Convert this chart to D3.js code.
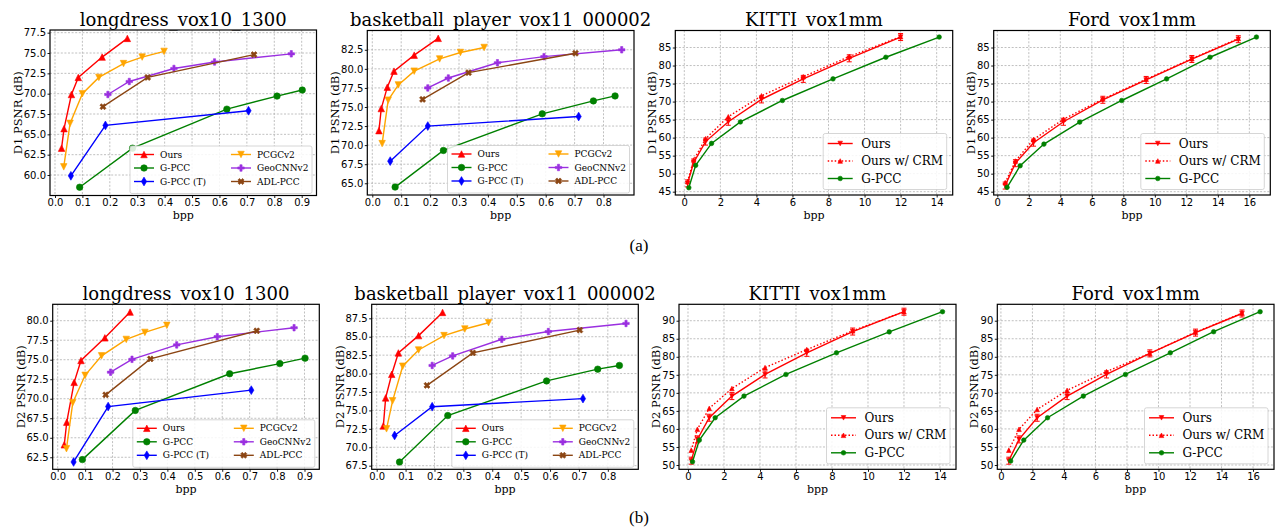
<!DOCTYPE html>
<html><head><meta charset="utf-8">
<script src="https://cdn.jsdelivr.net/npm/d3@7"></script>
<style>body{margin:0;background:#fff}svg{display:block}</style>
</head><body>
<svg id="chart" width="1275" height="527"></svg>
<script>
// ---------------- DATA ----------------
// longdress_vox10_1300 (bpp shared between D1 and D2)
const ldBppOurs  = [0.024, 0.033, 0.060, 0.085, 0.172, 0.264];
const ldBppGPCC  = [0.090, 0.283, 0.627, 0.810, 0.902];
const ldBppGPCCT = [0.058, 0.184, 0.706];
const ldBppPCGC  = [0.032, 0.055, 0.100, 0.160, 0.250, 0.318, 0.398];
const ldBppGeo   = [0.193, 0.271, 0.434, 0.582, 0.862];
const ldBppADL   = [0.175, 0.338, 0.726];
const ldD1Ours  = [63.3, 65.7, 69.9, 72.0, 74.5, 76.8];
const ldD1GPCC  = [58.5, 63.3, 68.1, 69.7, 70.45];
const ldD1GPCCT = [59.9, 66.1, 67.9];
const ldD1PCGC  = [61.0, 66.35, 70.0, 72.0, 73.7, 74.5, 75.2];
const ldD1Geo   = [69.9, 71.5, 73.1, 73.9, 74.9];
const ldD1ADL   = [68.4, 72.0, 74.8];
const ldD2Ours  = [64.1, 67.0, 72.1, 74.9, 77.8, 81.1];
const ldD2GPCC  = [62.2, 68.5, 73.2, 74.5, 75.2];
const ldD2GPCCT = [61.9, 69.0, 71.1];
const ldD2PCGC  = [63.6, 69.5, 73.0, 75.5, 77.6, 78.5, 79.4];
const ldD2Geo   = [73.4, 75.05, 76.9, 77.95, 79.1];
const ldD2ADL   = [70.5, 75.1, 78.7];

// basketball_player_vox11_000002
const bbBppOurs  = [0.023, 0.031, 0.052, 0.075, 0.145, 0.228];
const bbBppGPCC  = [0.079, 0.246, 0.588, 0.765, 0.840];
const bbBppGPCCT = [0.062, 0.192, 0.714];
const bbBppPCGC  = [0.034, 0.055, 0.090, 0.145, 0.233, 0.305, 0.387];
const bbBppGeo   = [0.192, 0.263, 0.433, 0.594, 0.863];
const bbBppADL   = [0.174, 0.333, 0.703];
const bbD1Ours  = [71.9, 74.8, 77.6, 79.7, 81.8, 84.0];
const bbD1GPCC  = [64.5, 69.3, 74.1, 75.8, 76.45];
const bbD1GPCCT = [67.9, 72.5, 73.75];
const bbD1PCGC  = [70.2, 75.9, 77.9, 79.7, 81.3, 82.15, 82.8];
const bbD1Geo   = [77.5, 78.8, 80.8, 81.6, 82.5];
const bbD1ADL   = [76.0, 79.5, 82.05];
const bbD2Ours  = [72.9, 76.7, 79.9, 82.8, 85.15, 88.3];
const bbD2GPCC  = [68.0, 74.3, 79.0, 80.6, 81.1];
const bbD2GPCCT = [71.6, 75.5, 76.6];
const bbD2PCGC  = [72.5, 76.3, 81.0, 83.2, 85.15, 86.05, 86.9];
const bbD2Geo   = [81.1, 82.4, 84.65, 85.7, 86.8];
const bbD2ADL   = [78.4, 82.8, 85.9];

// KITTI_vox1mm
const kiBppOurs = [0.18, 0.52, 1.18, 2.44, 4.28, 6.6, 9.15, 12.0];
const kiBppGPCC = [0.25, 0.63, 1.51, 3.11, 5.44, 8.25, 11.18, 14.14];
const kiD1Ours = [47.3, 53.1, 58.9, 64.4, 70.6, 76.3, 82.0, 87.9];
const kiD1CRM  = [47.8, 53.8, 59.7, 65.8, 71.6, 76.9, 82.5, 88.0];
const kiD1GPCC = [46.1, 52.3, 58.4, 64.35, 70.3, 76.3, 82.3, 87.9];
const kiD2Ours = [51.2, 57.1, 63.1, 69.1, 75.1, 81.1, 87.0, 92.5];
const kiD2CRM  = [54.1, 59.9, 65.7, 71.2, 77.0, 82.0, 87.2, 92.5];
const kiD2GPCC = [50.9, 56.9, 63.1, 69.1, 75.1, 81.1, 86.9, 92.5];

// Ford_vox1mm
const foBppOurs = [0.5, 1.15, 2.3, 4.2, 6.7, 9.45, 12.35, 15.3];
const foBppGPCC = [0.62, 1.45, 2.96, 5.23, 7.9, 10.75, 13.5, 16.45];
const foD1Ours = [46.7, 52.9, 58.6, 64.4, 70.5, 76.0, 81.8, 87.3];
const foD1CRM  = [47.5, 53.5, 59.5, 65.1, 70.7, 76.2, 81.9, 87.5];
const foD1GPCC = [46.2, 52.2, 58.2, 64.3, 70.3, 76.3, 82.3, 87.9];
const foD2Ours = [51.2, 57.1, 63.1, 69.1, 75.1, 80.95, 86.7, 92.0];
const foD2CRM  = [54.1, 59.9, 65.4, 70.7, 75.9, 80.95, 86.8, 92.1];
const foD2GPCC = [51.1, 56.9, 63.1, 69.1, 75.1, 81.1, 86.95, 92.5];

// tick labels
const ldTicksX = [0.0, 0.1, 0.2, 0.3, 0.4, 0.5, 0.6, 0.7, 0.8, 0.9];
const bbTicksX = [0.0, 0.1, 0.2, 0.3, 0.4, 0.5, 0.6, 0.7, 0.8];
const kiTicksX = [0, 2, 4, 6, 8, 10, 12, 14];
const foTicksX = [0, 2, 4, 6, 8, 10, 12, 14, 16];
const ldD1TicksY = [60.0, 62.5, 65.0, 67.5, 70.0, 72.5, 75.0, 77.5];
const ldD2TicksY = [62.5, 65.0, 67.5, 70.0, 72.5, 75.0, 77.5, 80.0];
const bbD1TicksY = [65.0, 67.5, 70.0, 72.5, 75.0, 77.5, 80.0, 82.5];
const bbD2TicksY = [67.5, 70.0, 72.5, 75.0, 77.5, 80.0, 82.5, 85.0, 87.5];
const lidarD1TicksY = [45, 50, 55, 60, 65, 70, 75, 80, 85];
const lidarD2TicksY = [50, 55, 60, 65, 70, 75, 80, 85, 90];

const leftNames = ["Ours", "G-PCC", "G-PCC (T)", "PCGCv2", "GeoCNNv2", "ADL-PCC"];
const rightNames = ["Ours", "Ours w/ CRM", "G-PCC"];

// ---------------- STYLE ----------------
const leftStyle = [
  {color: "#ff0000", marker: "^"},
  {color: "#008000", marker: "o"},
  {color: "#0000ff", marker: "d"},
  {color: "#ffa500", marker: "v"},
  {color: "#9a2fe0", marker: "P"},
  {color: "#8b4513", marker: "X"}
];
const rightStyle = [
  {color: "#ff0000", marker: "v", dash: null},
  {color: "#ff0000", marker: "^", dash: "1.5,2"},
  {color: "#008000", marker: "o", dash: null}
];

const zip = (xs, ys) => xs.map((x, i) => [x, ys[i]]);

function leftSeries(bpp, ys) {
  return leftNames.map((n, i) => ({name: n, pts: zip(bpp[i], ys[i]), ...leftStyle[i]}));
}
function rightSeries(bppO, bppG, ys) {
  return rightNames.map((n, i) => ({name: n, pts: zip(i < 2 ? bppO : bppG, ys[i]), ...rightStyle[i]}));
}
const ldBpp = [ldBppOurs, ldBppGPCC, ldBppGPCCT, ldBppPCGC, ldBppGeo, ldBppADL];
const bbBpp = [bbBppOurs, bbBppGPCC, bbBppGPCCT, bbBppPCGC, bbBppGeo, bbBppADL];

const panels = [
  {rect: [50, 30, 316.5, 195.5], xd: [-0.0182, 0.954], yd: [57.48, 77.83], xt: ldTicksX, yt: ldD1TicksY,
   xf: ".1f", yf: ".1f", title: "longdress_vox10_1300", ylab: "D1 PSNR (dB)", kind: "L",
   series: leftSeries(ldBpp, [ldD1Ours, ldD1GPCC, ldD1GPCCT, ldD1PCGC, ldD1Geo, ldD1ADL])},
  {rect: [367.3, 30.5, 634, 195], xd: [-0.0173, 0.9055], yd: [63.46, 85.03], xt: bbTicksX, yt: bbD1TicksY,
   xf: ".1f", yf: ".1f", title: "basketball_player_vox11_000002", ylab: "D1 PSNR (dB)", kind: "L",
   series: leftSeries(bbBpp, [bbD1Ours, bbD1GPCC, bbD1GPCCT, bbD1PCGC, bbD1Geo, bbD1ADL])},
  {rect: [675.3, 30.5, 952.7, 195], xd: [-0.5, 14.89], yd: [44.08, 89.72], xt: kiTicksX, yt: lidarD1TicksY,
   xf: "d", yf: "d", title: "KITTI_vox1mm", ylab: "D1 PSNR (dB)", kind: "R",
   series: rightSeries(kiBppOurs, kiBppGPCC, [kiD1Ours, kiD1CRM, kiD1GPCC])},
  {rect: [993.7, 30.5, 1270.3, 195], xd: [-0.229, 17.33], yd: [44.08, 89.72], xt: foTicksX, yt: lidarD1TicksY,
   xf: "d", yf: "d", title: "Ford_vox1mm", ylab: "D1 PSNR (dB)", kind: "R",
   series: rightSeries(foBppOurs, foBppGPCC, [foD1Ours, foD1CRM, foD1GPCC])},
  {rect: [52.7, 304.3, 319.3, 469.3], xd: [-0.0182, 0.954], yd: [60.96, 82.1], xt: ldTicksX, yt: ldD2TicksY,
   xf: ".1f", yf: ".1f", title: "longdress_vox10_1300", ylab: "D2 PSNR (dB)", kind: "L",
   series: leftSeries(ldBpp, [ldD2Ours, ldD2GPCC, ldD2GPCCT, ldD2PCGC, ldD2Geo, ldD2ADL])},
  {rect: [371.7, 304.3, 638.3, 469.3], xd: [-0.0173, 0.9055], yd: [67.01, 89.4], xt: bbTicksX, yt: bbD2TicksY,
   xf: ".1f", yf: ".1f", title: "basketball_player_vox11_000002", ylab: "D2 PSNR (dB)", kind: "L",
   series: leftSeries(bbBpp, [bbD2Ours, bbD2GPCC, bbD2GPCCT, bbD2PCGC, bbD2Geo, bbD2ADL])},
  {rect: [679, 304.3, 956, 469.3], xd: [-0.5, 14.89], yd: [48.81, 94.55], xt: kiTicksX, yt: lidarD2TicksY,
   xf: "d", yf: "d", title: "KITTI_vox1mm", ylab: "D2 PSNR (dB)", kind: "R",
   series: rightSeries(kiBppOurs, kiBppGPCC, [kiD2Ours, kiD2CRM, kiD2GPCC])},
  {rect: [997.3, 304.3, 1274, 469.3], xd: [-0.229, 17.33], yd: [48.81, 94.55], xt: foTicksX, yt: lidarD2TicksY,
   xf: "d", yf: "d", title: "Ford_vox1mm", ylab: "D2 PSNR (dB)", kind: "R",
   series: rightSeries(foBppOurs, foBppGPCC, [foD2Ours, foD2CRM, foD2GPCC])}
];

// ---------------- DRAW ----------------
const svg = d3.select("#chart");
const SERIF = "'DejaVu Serif', serif";
const SANS = "'DejaVu Sans', sans-serif";

function markerPath(type, s) {
  const h = s / 2;
  if (type === "^") return `M0,${-h}L${h},${h}L${-h},${h}Z`;
  if (type === "v") return `M0,${h}L${h},${-h}L${-h},${-h}Z`;
  if (type === "o") return d3.symbol(d3.symbolCircle, Math.PI * h * h)();
  if (type === "d") { const w = 0.6 * h; return `M0,${-h}L${w},0L0,${h}L${-w},0Z`; }
  if (type === "P" || type === "X") {
    const a = h / 3;
    return `M${-a},${-h}H${a}V${-a}H${h}V${a}H${a}V${h}H${-a}V${a}H${-h}V${-a}H${-a}Z`;
  }
  return "";
}
function drawMarker(g, type, s, x, y, color) {
  g.append("path").attr("d", markerPath(type, s))
    .attr("transform", `translate(${x},${y})` + (type === "X" ? " rotate(45)" : ""))
    .attr("fill", color).attr("stroke", color).attr("stroke-width", 0.6);
}

panels.forEach(p => {
  const [l, t, r, b] = p.rect;
  const x = d3.scaleLinear().domain(p.xd).range([l, r]);
  const y = d3.scaleLinear().domain(p.yd).range([b, t]);
  const g = svg.append("g");

  // grid
  const grid = g.append("g").attr("stroke", "#b0b0b0").attr("stroke-width", 0.8)
    .attr("stroke-dasharray", "2,1.6");
  p.xt.forEach(v => grid.append("line").attr("x1", x(v)).attr("x2", x(v)).attr("y1", t).attr("y2", b));
  p.yt.forEach(v => grid.append("line").attr("x1", l).attr("x2", r).attr("y1", y(v)).attr("y2", y(v)));

  // series
  const isL = p.kind === "L";
  const ms = isL ? 6.5 : 4.6;
  const lw = 1.4;
  const line = d3.line().x(d => x(d[0])).y(d => y(d[1]));
  p.series.forEach(s => {
    g.append("path").attr("d", line(s.pts)).attr("fill", "none").attr("stroke", s.color)
      .attr("stroke-width", lw).attr("stroke-dasharray", s.dash || null);
    const mg = g.append("g");
    s.pts.forEach(d => {
      if (!isL && s.name === "Ours") {
        const cx = x(d[0]), cy = y(d[1]);
        mg.append("path").attr("d", `M${cx},${cy - 3.5}V${cy + 3.5}M${cx - 2.5},${cy - 3.5}H${cx + 2.5}M${cx - 2.5},${cy + 3.5}H${cx + 2.5}`)
          .attr("stroke", s.color).attr("stroke-width", 1).attr("fill", "none");
      }
      drawMarker(mg, s.marker, s.marker === "d" ? ms * 1.35 : ms, x(d[0]), y(d[1]), s.color);
    });
  });

  // axes
  const xa = d3.axisBottom(x).tickValues(p.xt).tickFormat(d3.format(p.xf)).tickSize(2.5).tickPadding(1);
  const ya = d3.axisLeft(y).tickValues(p.yt).tickFormat(d3.format(p.yf)).tickSize(2.5).tickPadding(1.5);
  const gx = g.append("g").attr("transform", `translate(0,${b})`).call(xa);
  const gy = g.append("g").attr("transform", `translate(${l},0)`).call(ya);
  [gx, gy].forEach(a => {
    a.select(".domain").remove();
    a.selectAll("text").attr("font-family", SANS).attr("font-size", 10).attr("fill", "#000");
    a.selectAll("line").attr("stroke", "#000").attr("stroke-width", 0.9);
  });

  // frame
  g.append("rect").attr("x", l).attr("y", t).attr("width", r - l).attr("height", b - t)
    .attr("fill", "none").attr("stroke", "#000").attr("stroke-width", 1.2);

  // labels
  g.append("text").attr("x", (l + r) / 2).attr("y", t - 4.5).attr("text-anchor", "middle")
    .attr("font-family", SERIF).attr("font-size", 18).text(p.title);
  g.append("text").attr("x", (l + r) / 2).attr("y", b + 23.5).attr("text-anchor", "middle")
    .attr("font-family", SERIF).attr("font-size", 11).text("bpp");
  const yx = l - (isL ? 32 : 23);
  g.append("text").attr("transform", `translate(${yx},${(t + b) / 2}) rotate(-90)`)
    .attr("text-anchor", "middle").attr("dominant-baseline", "central")
    .attr("font-family", SERIF).attr("font-size", 11.5).text(p.ylab);

  // legend
  const lg = g.append("g");
  if (isL) {
    const w = 182, h = 47.5, bx = r - 4.5 - w, by = b - 2 - h;
    lg.append("rect").attr("x", bx).attr("y", by).attr("width", w).attr("height", h).attr("rx", 2)
      .attr("fill", "#fff").attr("fill-opacity", 0.85).attr("stroke", "#cccccc").attr("stroke-width", 0.8);
    const rows = [8.5, 22, 35.5];
    p.series.forEach((s, i) => {
      const col = Math.floor(i / 3), row = i % 3;
      const x0 = bx + (col === 0 ? 4 : 101), x1 = x0 + 20, yy = by + rows[row];
      lg.append("line").attr("x1", x0).attr("x2", x1).attr("y1", yy).attr("y2", yy)
        .attr("stroke", s.color).attr("stroke-width", 1.4);
      drawMarker(lg, s.marker, s.marker === "d" ? 6.5 * 1.35 : 6.5, (x0 + x1) / 2, yy, s.color);
      lg.append("text").attr("x", x1 + 6).attr("y", yy).attr("dominant-baseline", "central")
        .attr("font-family", SERIF).attr("font-size", 9).text(s.name);
    });
  } else {
    const w = 123.5, h = 56, bx = r - 6 - w, by = b - 5.5 - h;
    lg.append("rect").attr("x", bx).attr("y", by).attr("width", w).attr("height", h).attr("rx", 2)
      .attr("fill", "#fff").attr("fill-opacity", 0.85).attr("stroke", "#cccccc").attr("stroke-width", 0.8);
    const rows = [10, 27.5, 45];
    p.series.forEach((s, i) => {
      const x0 = bx + 4.5, x1 = bx + 29.5, yy = by + rows[i];
      lg.append("line").attr("x1", x0).attr("x2", x1).attr("y1", yy).attr("y2", yy)
        .attr("stroke", s.color).attr("stroke-width", 1.4).attr("stroke-dasharray", s.dash || null);
      drawMarker(lg, s.marker, 4.6, (x0 + x1) / 2, yy, s.color);
      lg.append("text").attr("x", bx + 38).attr("y", yy).attr("dominant-baseline", "central")
        .attr("font-family", SERIF).attr("font-size", 12).text(s.name);
    });
  }
});

svg.append("text").attr("x", 639).attr("y", 250.5).attr("text-anchor", "middle")
  .attr("font-family", "'Liberation Serif', serif").attr("font-size", 17).text("(a)");
svg.append("text").attr("x", 639).attr("y", 523).attr("text-anchor", "middle")
  .attr("font-family", "'Liberation Serif', serif").attr("font-size", 17).text("(b)");
</script>
</body></html>
